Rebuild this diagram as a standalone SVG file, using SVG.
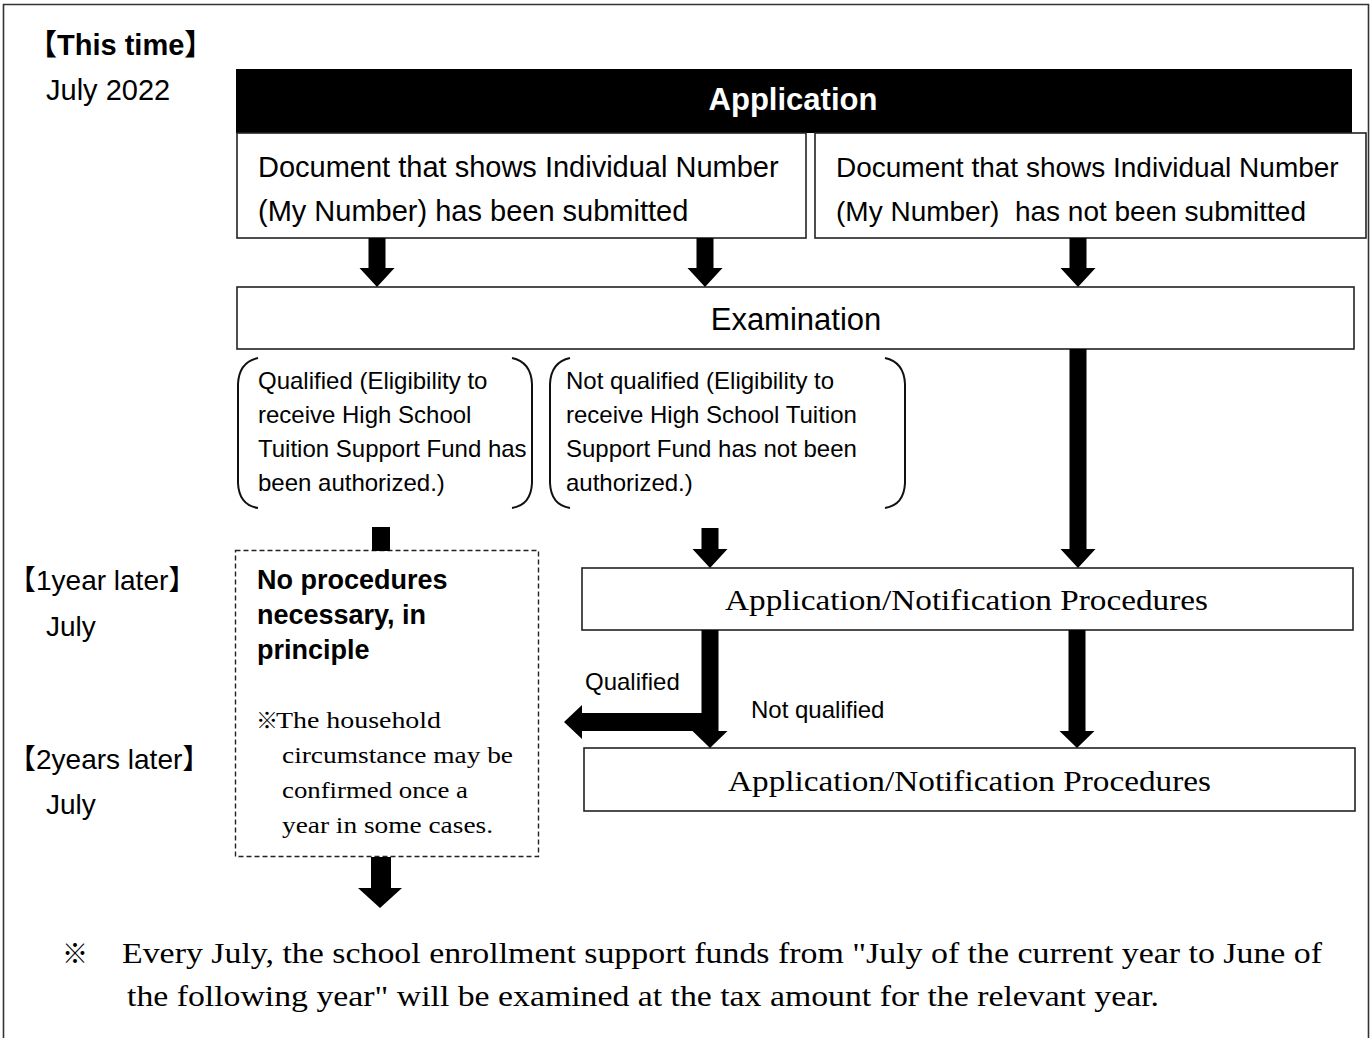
<svg xmlns="http://www.w3.org/2000/svg" width="1370" height="1038" viewBox="0 0 1370 1038">
<style>
.sans{font-family:"Liberation Sans",Arial,"Noto Sans CJK JP",sans-serif;fill:#000}
.serif{font-family:"Liberation Serif","Times New Roman","Noto Sans CJK JP",serif;fill:#000}
.box{fill:#fff;stroke:#222;stroke-width:1.6}
.dash{fill:#fff;stroke:#222;stroke-width:1.4;stroke-dasharray:5 3}
.brk{fill:none;stroke:#111;stroke-width:2}
.arr{fill:#000;stroke:none}
</style>
<rect x="0" y="0" width="1370" height="1038" fill="#fff"/>
<path d="M3.5,1040 V4.5 H1368.5 V1040" fill="none" stroke="#333" stroke-width="1.6"/>

<g id="timeline">
<text class="sans" x="28" y="55" font-size="29" font-weight="bold">【This time】</text>
<text class="sans" x="46" y="100" font-size="29">July 2022</text>
<text class="sans" x="8" y="590" font-size="28">【1year later】</text>
<text class="sans" x="46" y="636" font-size="28">July</text>
<text class="sans" x="8" y="769" font-size="28">【2years later】</text>
<text class="sans" x="46" y="814" font-size="28">July</text>
</g>

<g id="application">
<rect x="236" y="69" width="1116" height="64" fill="#000"/>
<text class="sans" x="793" y="110" font-size="31" font-weight="bold" style="fill:#fff" text-anchor="middle">Application</text>
</g>

<g id="doc-submitted">
<rect class="box" x="237" y="133" width="569" height="105"/>
<text class="sans" x="258" y="177" font-size="29">Document that shows Individual Number</text>
<text class="sans" x="258" y="221" font-size="29">(My Number) has been submitted</text>
</g>

<g id="doc-not-submitted">
<rect class="box" x="815" y="133" width="551" height="105"/>
<text class="sans" x="836" y="177" font-size="28">Document that shows Individual Number</text>
<text class="sans" x="836" y="221" font-size="28" xml:space="preserve">(My Number)  has not been submitted</text>
</g>

<g id="examination">
<rect class="box" x="237" y="287" width="1117" height="62"/>
<text class="sans" x="796" y="330" font-size="31" text-anchor="middle">Examination</text>
</g>

<g id="qualified">
<path class="brk" d="M258,358 Q239,362 238,384 V483 Q239,505 258,508"/>
<path class="brk" d="M512,358 Q531,362 532,384 V483 Q531,505 512,508"/>
<text class="sans" font-size="24" x="258" y="389">Qualified (Eligibility to</text>
<text class="sans" font-size="24" x="258" y="423">receive High School</text>
<text class="sans" font-size="24" x="258" y="457">Tuition Support Fund has</text>
<text class="sans" font-size="24" x="258" y="491">been authorized.)</text>
</g>

<g id="not-qualified">
<path class="brk" d="M570,358 Q551,362 550,384 V483 Q551,505 570,508"/>
<path class="brk" d="M885,358 Q904,362 905,384 V483 Q904,505 885,508"/>
<text class="sans" font-size="24" x="566" y="389">Not qualified (Eligibility to</text>
<text class="sans" font-size="24" x="566" y="423">receive High School Tuition</text>
<text class="sans" font-size="24" x="566" y="457">Support Fund has not been</text>
<text class="sans" font-size="24" x="566" y="491">authorized.)</text>
</g>

<g id="no-procedures">
<rect class="dash" x="235.5" y="550.5" width="303" height="306"/>
<text class="sans" font-size="27" font-weight="bold" x="257" y="589">No procedures</text>
<text class="sans" font-size="27" font-weight="bold" x="257" y="624">necessary, in</text>
<text class="sans" font-size="27" font-weight="bold" x="257" y="659">principle</text>
<text class="serif" font-size="22" x="256" y="728">※</text>
<text class="serif" font-size="24" x="276" y="728" textLength="165" lengthAdjust="spacingAndGlyphs">The household</text>
<text class="serif" font-size="24" x="282" y="763" textLength="231" lengthAdjust="spacingAndGlyphs">circumstance may be</text>
<text class="serif" font-size="24" x="282" y="798" textLength="186" lengthAdjust="spacingAndGlyphs">confirmed once a</text>
<text class="serif" font-size="24" x="282" y="833" textLength="211" lengthAdjust="spacingAndGlyphs">year in some cases.</text>
</g>

<g id="procedures-1">
<rect class="box" x="582" y="568" width="771" height="62"/>
<text class="serif" font-size="29" x="725" y="610" textLength="483" lengthAdjust="spacingAndGlyphs">Application/Notification Procedures</text>
</g>

<g id="procedures-2">
<rect class="box" x="584" y="748" width="771" height="63"/>
<text class="serif" font-size="29" x="728" y="791" textLength="483" lengthAdjust="spacingAndGlyphs">Application/Notification Procedures</text>
</g>

<g id="connectors">
<path class="arr" d="M368.5,238 H385.5 V268 H394.5 L377,287 L359.5,268 H368.5 Z"/>
<path class="arr" d="M696.5,238 H713.5 V268 H722.5 L705,287 L687.5,268 H696.5 Z"/>
<path class="arr" d="M1069.5,238 H1086.5 V268 H1095.5 L1078,287 L1060.5,268 H1069.5 Z"/>
<path class="arr" d="M1069.5,349 H1086.5 V549 H1095.5 L1078,568 L1060.5,549 H1069.5 Z"/>
<rect class="arr" x="372" y="527" width="18" height="24"/>
<path class="arr" d="M701.5,528 H718.5 V549 H727.5 L710,568 L692.5,549 H701.5 Z"/>
<path class="arr" d="M701.5,630 H718.5 V731 H727.5 L710,748 L692.5,731 H701.5 Z"/>
<path class="arr" d="M1068.5,630 H1085.5 V731 H1094.5 L1077,748 L1059.5,731 H1068.5 Z"/>
<path class="arr" d="M702,713 V731 H582 V739 L564,722 L582,705 V713 Z"/>
<path class="arr" d="M371,857 H391 V888 H402 L380,908 L358,888 H371 Z"/>
<text class="sans" font-size="24" x="585" y="690">Qualified</text>
<text class="sans" font-size="24" x="751" y="718">Not qualified</text>
</g>

<g id="footnote">
<text class="serif" font-size="26" x="62" y="963">※</text>
<text class="serif" font-size="30" x="122" y="963" textLength="1200" lengthAdjust="spacingAndGlyphs">Every July, the school enrollment support funds from "July of the current year to June of</text>
<text class="serif" font-size="30" x="127" y="1006" textLength="1032" lengthAdjust="spacingAndGlyphs">the following year" will be examined at the tax amount for the relevant year.</text>
</g>
</svg>
